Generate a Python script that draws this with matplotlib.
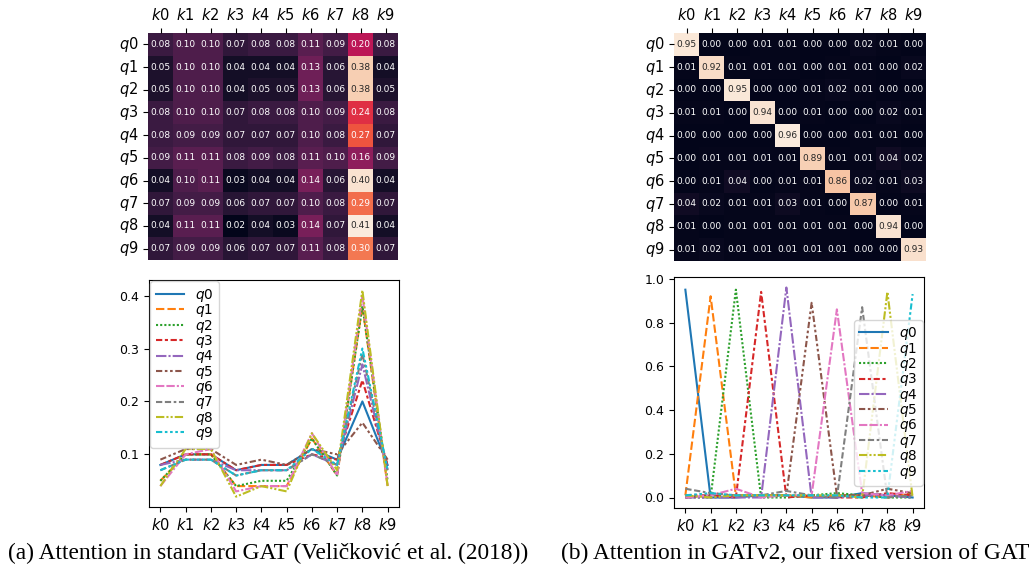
import numpy as np
import pandas as pd
import seaborn as sns
from matplotlib import pyplot as plt

keys = ["$k%d$" % i for i in range(10)]
queries = ["$q%d$" % i for i in range(10)]

# attention in standard GAT (rows = queries, cols = keys)
gat = [
    [0.08, 0.10, 0.10, 0.07, 0.08, 0.08, 0.11, 0.09, 0.20, 0.08],
    [0.05, 0.10, 0.10, 0.04, 0.04, 0.04, 0.13, 0.06, 0.38, 0.04],
    [0.05, 0.10, 0.10, 0.04, 0.05, 0.05, 0.13, 0.06, 0.38, 0.05],
    [0.08, 0.10, 0.10, 0.07, 0.08, 0.08, 0.10, 0.09, 0.24, 0.08],
    [0.08, 0.09, 0.09, 0.07, 0.07, 0.07, 0.10, 0.08, 0.27, 0.07],
    [0.09, 0.11, 0.11, 0.08, 0.09, 0.08, 0.11, 0.10, 0.16, 0.09],
    [0.04, 0.10, 0.11, 0.03, 0.04, 0.04, 0.14, 0.06, 0.40, 0.04],
    [0.07, 0.09, 0.09, 0.06, 0.07, 0.07, 0.10, 0.08, 0.29, 0.07],
    [0.04, 0.11, 0.11, 0.02, 0.04, 0.03, 0.14, 0.07, 0.41, 0.04],
    [0.07, 0.09, 0.09, 0.06, 0.07, 0.07, 0.11, 0.08, 0.30, 0.07],
]

# attention in GATv2
gatv2 = [
    [0.95, 0.00, 0.00, 0.01, 0.01, 0.00, 0.00, 0.02, 0.01, 0.00],
    [0.01, 0.92, 0.01, 0.01, 0.01, 0.00, 0.01, 0.01, 0.00, 0.02],
    [0.00, 0.00, 0.95, 0.00, 0.00, 0.01, 0.02, 0.01, 0.00, 0.00],
    [0.01, 0.01, 0.00, 0.94, 0.00, 0.01, 0.00, 0.00, 0.02, 0.01],
    [0.00, 0.00, 0.00, 0.00, 0.96, 0.00, 0.00, 0.01, 0.01, 0.00],
    [0.00, 0.01, 0.01, 0.01, 0.01, 0.89, 0.01, 0.01, 0.04, 0.02],
    [0.00, 0.01, 0.04, 0.00, 0.01, 0.01, 0.86, 0.02, 0.01, 0.03],
    [0.04, 0.02, 0.01, 0.01, 0.03, 0.01, 0.00, 0.87, 0.00, 0.01],
    [0.01, 0.00, 0.01, 0.01, 0.01, 0.01, 0.01, 0.00, 0.94, 0.00],
    [0.01, 0.02, 0.01, 0.01, 0.01, 0.01, 0.01, 0.00, 0.00, 0.93],
]

gat_yticks = [0.1, 0.2, 0.3, 0.4]
gatv2_yticks = [0.0, 0.2, 0.4, 0.6, 0.8, 1.0]

captions = ["(a) Attention in standard GAT (Veličković et al. (2018))",
            "(b) Attention in GATv2, our fixed version of GAT"]

W, H = 1035, 572
fig = plt.figure(figsize=(W / 100, H / 100), dpi=100)


def box(x0, y0, x1, y1):
    # pixel box -> figure fraction
    return [x0 / W, 1 - y1 / H, (x1 - x0) / W, (y1 - y0) / H]


def draw(data, yticks, hm_box, ln_box, legend_kw):
    ax = fig.add_axes(box(*hm_box))
    df = pd.DataFrame(data, index=queries, columns=keys)
    sns.heatmap(df, ax=ax, annot=True, fmt=".2f", cbar=False,
                annot_kws={"size": 6.5})
    ax.xaxis.tick_top()
    ax.tick_params(axis="x", labelsize=10.5, rotation=0)
    ax.tick_params(axis="y", labelsize=10.5, rotation=0)

    ax2 = fig.add_axes(box(*ln_box))
    lines = pd.DataFrame(np.array(data).T, columns=queries)
    sns.lineplot(data=lines, ax=ax2)
    ax2.set_xticks(range(10))
    ax2.set_xticklabels(keys, fontsize=10.5)
    ax2.set_yticks(yticks)
    ax2.tick_params(axis="y", labelsize=9)
    ax2.legend(fontsize=9.8, labelspacing=-0.12, handlelength=2.1,
               borderaxespad=0.1, **legend_kw)


draw(gat, gat_yticks, (148, 33, 398, 260), (149, 280, 399, 507),
     {"loc": "upper left"})
draw(gatv2, gatv2_yticks, (674, 33, 926, 261), (674, 277, 924, 508),
     {"loc": "center right", "bbox_to_anchor": (1.0, 0.455)})

fig.text(268 / W, 1 - 553 / H, captions[0], ha="center", va="center",
         family="Liberation Serif", fontsize=16.8)
fig.text(795 / W, 1 - 553 / H, captions[1], ha="center", va="center",
         family="Liberation Serif", fontsize=16.8)

plt.savefig("out.png", dpi=100)
